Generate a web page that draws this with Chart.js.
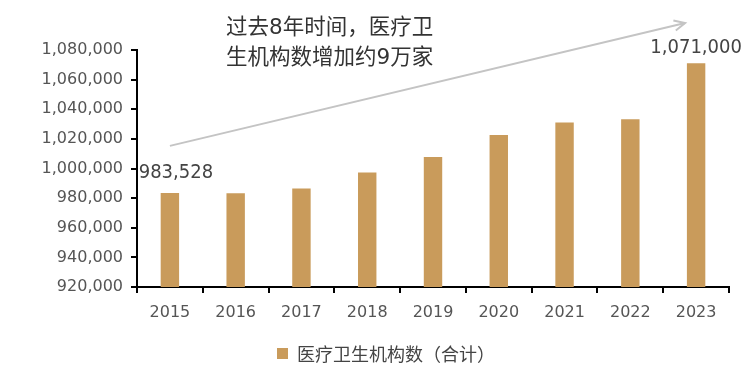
<!DOCTYPE html>
<html>
<head>
  <meta charset="utf-8">
  <title>医疗卫生机构数</title>
  <script src="https://cdn.jsdelivr.net/npm/chart.js"></script>
  <style>
    body {
      margin: 0;
      background: #fff;
    }
    .chart-box {
      width: 752px;
      height: 385px;
    }
  </style>
</head>
<body>
  <div class="chart-box">
    <canvas id="barChart" width="752" height="385"></canvas>
  </div>
  <script>
    // data
    const years = ['2015', '2016', '2017', '2018', '2019', '2020', '2021', '2022', '2023'];
    const institutions = [983528, 983300, 986500, 997300, 1007700, 1022700, 1031000, 1033200, 1071000];
    const seriesName = '医疗卫生机构数（合计）';
    const noteLines = ['过去8年时间，医疗卫', '生机构数增加约9万家'];
    const yMin = 920000;
    const yMax = 1080000;
    const yStep = 20000;

    const barColor = '#C99B5B';
    const latin = '"DejaVu Sans", sans-serif';
    const cjk = '"DejaVu Sans", "Noto Sans CJK SC", sans-serif';

    const fmt = v => v.toLocaleString('en-US');

    // labels on first / last bar, arrow, note text, legend
    const extras = {
      id: 'extras',
      afterDraw(chart) {
        const ctx = chart.ctx;
        const bars = chart.getDatasetMeta(0).data;
        ctx.save();

        // value labels
        ctx.fillStyle = '#444';
        ctx.font = '20px "DejaVu Sans Condensed", ' + latin;
        ctx.textAlign = 'center';
        ctx.textBaseline = 'middle';
        const first = bars[0];
        const last = bars[bars.length - 1];
        ctx.fillText(fmt(institutions[0]), first.x + 6, first.y - 20);
        ctx.fillText(fmt(institutions[institutions.length - 1]), last.x, last.y - 16);

        // trend arrow
        const x0 = first.x, y0 = first.y - 47;
        const x1 = last.x - 11, y1 = 23;
        ctx.strokeStyle = '#c4c4c4';
        ctx.lineWidth = 2;
        ctx.beginPath();
        ctx.moveTo(x0, y0);
        ctx.lineTo(x1, y1);
        ctx.stroke();
        const ang = Math.atan2(y1 - y0, x1 - x0);
        ctx.beginPath();
        ctx.moveTo(x1 - 12 * Math.cos(ang - 0.45), y1 - 12 * Math.sin(ang - 0.45));
        ctx.lineTo(x1, y1);
        ctx.lineTo(x1 - 12 * Math.cos(ang + 0.45), y1 - 12 * Math.sin(ang + 0.45));
        ctx.stroke();

        // note
        ctx.fillStyle = '#333';
        ctx.font = '21.5px ' + cjk;
        ctx.textAlign = 'left';
        ctx.fillText(noteLines[0], 226, 28);
        ctx.fillText(noteLines[1], 226, 58);

        // legend
        ctx.fillStyle = barColor;
        ctx.fillRect(277, 348, 11, 11);
        ctx.fillStyle = '#444';
        ctx.font = '18px "Noto Sans CJK SC", sans-serif';
        ctx.fillText(seriesName, 297, 354);
        ctx.restore();
      }
    };

    const barChart = new Chart(document.getElementById('barChart'), {
      type: 'bar',
      data: {
        labels: years,
        datasets: [{
          label: seriesName,
          data: institutions,
          backgroundColor: barColor,
          categoryPercentage: 1,
          barPercentage: 0.28
        }]
      },
      options: {
        responsive: false,
        animation: false,
        layout: {
          padding: { top: 50, right: 23, left: 0, bottom: 0 }
        },
        plugins: {
          legend: { display: false },
          tooltip: { enabled: false }
        },
        scales: {
          x: {
            afterFit(scale) { scale.height = 98; },
            border: { color: '#000', width: 2 },
            grid: {
              drawOnChartArea: false,
              color: '#000',
              lineWidth: 2,
              tickLength: 6
            },
            ticks: {
              color: '#555',
              font: { family: latin, size: 16 },
              padding: 10
            }
          },
          y: {
            min: yMin,
            max: yMax,
            afterFit(scale) { scale.width = 137; },
            border: { color: '#000', width: 2 },
            grid: {
              drawOnChartArea: false,
              color: '#000',
              lineWidth: 2,
              tickLength: 6
            },
            ticks: {
              stepSize: yStep,
              color: '#555',
              font: { family: latin, size: 16 },
              padding: 8,
              callback: v => fmt(v)
            }
          }
        }
      },
      plugins: [extras]
    });
  </script>
</body>
</html>
